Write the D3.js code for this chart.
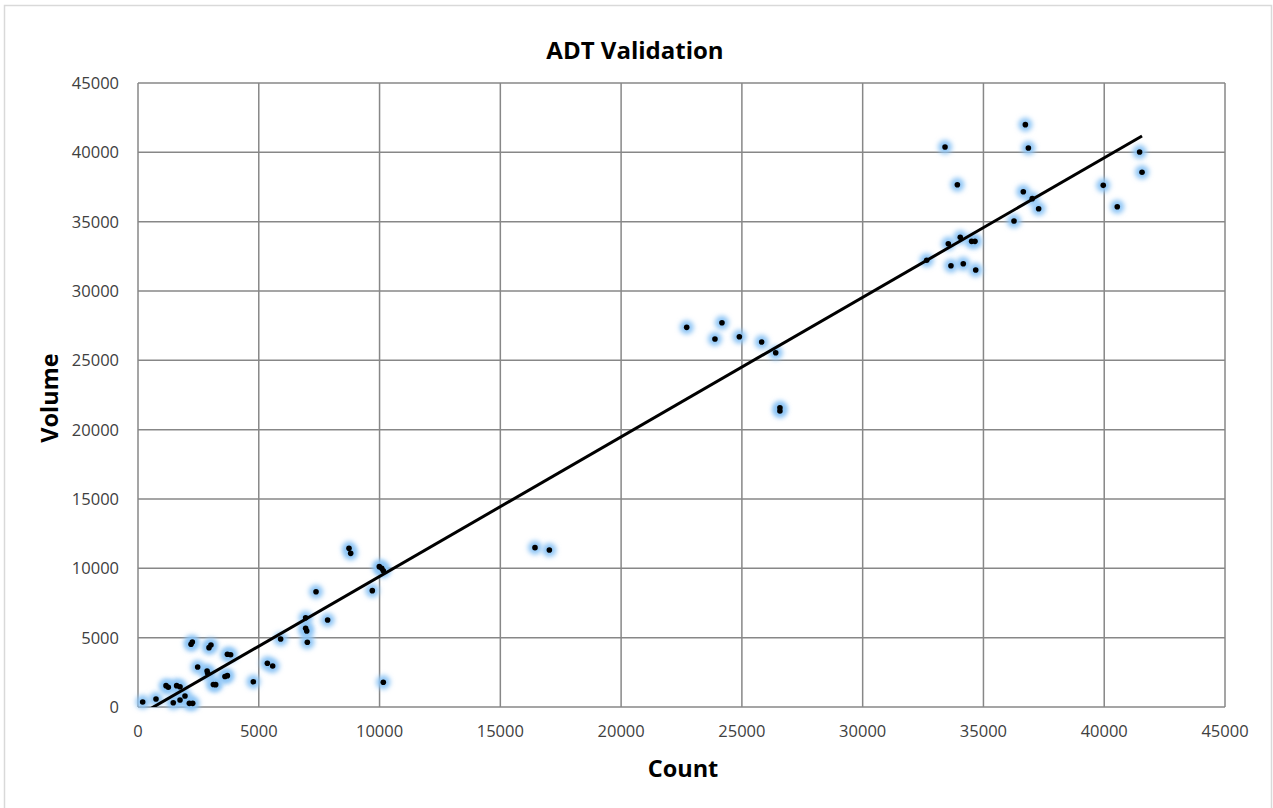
<!DOCTYPE html>
<html lang="en">
	<head>
		<meta charset="utf-8">
		<title>ADT Validation</title>
		<script src="https://cdnjs.cloudflare.com/ajax/libs/d3/7.8.5/d3.min.js"></script>
		<style type="text/css">
			body { margin: 0; background: #fff; }
			text { font-family: "Open Sans", "DejaVu Sans", sans-serif; }
		</style>
	</head>
	<body>
		<script type="text/javascript">

			//Width and height
			var w = 1273;
			var h = 808;

			//Data: count (x) and volume (y)
			var countVals = [194, 745, 1160, 1255, 1600, 1740, 1460, 1740, 1945, 2125, 2265,
				2195, 2250, 2940, 3020, 2470, 2860, 2885, 3700, 3835, 3120, 3215, 3600, 3700,
				4775, 5355, 5575, 5905, 6940, 6940, 6985, 7010, 7370, 7850, 8735, 8805, 9700,
				9990, 10090, 10155, 10155, 16435, 17030,
				22715, 23885, 24175, 24895, 25820, 26400, 26575, 26575,
				32650, 33410, 33545, 33655, 33920, 34040, 34165, 34510, 34650, 34680,
				36265, 36650, 36735, 36860, 37020, 37285, 39960, 40540, 41465, 41565];
			var volumeVals = [360, 577, 1540, 1420, 1540, 1465, 310, 505, 795, 265, 265,
				4520, 4690, 4280, 4470, 2885, 2600, 2430, 3800, 3770, 1620, 1610, 2200, 2260,
				1825, 3150, 2955, 4900, 6440, 5675, 5480, 4665, 8315, 6275, 11440, 11080, 8390,
				10120, 10000, 9830, 1780, 11490, 11320,
				27380, 26540, 27710, 26705, 26320, 25550, 21585, 21345,
				32215, 40380, 33410, 31825, 37665, 33870, 31965, 33580, 33580, 31515,
				35045, 37160, 41995, 40310, 36660, 35935, 37620, 36080, 40020, 38560];
			var tickVals = [0, 5000, 10000, 15000, 20000, 25000, 30000, 35000, 40000, 45000];

			var points = countVals.map(function(c, i) { return { x: c, y: volumeVals[i] }; });

			//Plot area
			var plotL = 138, plotR = 1225, plotT = 83, plotB = 707;

			var xScale = d3.scaleLinear().domain([0, 45000]).range([plotL, plotR]);
			var yScale = d3.scaleLinear().domain([0, 45000]).range([plotB, plotT]);

			var svg = d3.select("body")
				.append("svg")
				.attr("width", w)
				.attr("height", h);

			//Glow around the markers
			var defs = svg.append("defs");
			var glow = defs.append("filter")
				.attr("id", "glow")
				.attr("x", "-100%").attr("y", "-100%")
				.attr("width", "300%").attr("height", "300%");
			glow.append("feGaussianBlur").attr("stdDeviation", 2.4);

			defs.append("clipPath").attr("id", "plotclip")
				.append("rect")
				.attr("x", plotL).attr("y", plotT)
				.attr("width", plotR - plotL).attr("height", plotB - plotT);

			//Outer frame
			svg.append("rect")
				.attr("x", 4.5).attr("y", 5.5)
				.attr("width", 1267).attr("height", 820)
				.attr("fill", "#fff")
				.attr("stroke", "#d9d9d9")
				.attr("stroke-width", 1.5);

			//Grid lines
			svg.append("g").selectAll("line")
				.data(tickVals)
				.enter().append("line")
				.attr("x1", function(d) { return xScale(d); })
				.attr("x2", function(d) { return xScale(d); })
				.attr("y1", plotT).attr("y2", plotB)
				.attr("stroke", "#878787").attr("stroke-width", 1.5);

			svg.append("g").selectAll("line")
				.data(tickVals)
				.enter().append("line")
				.attr("x1", plotL).attr("x2", plotR)
				.attr("y1", function(d) { return yScale(d); })
				.attr("y2", function(d) { return yScale(d); })
				.attr("stroke", "#878787").attr("stroke-width", 1.5);

			//Tick labels
			svg.append("g").selectAll("text")
				.data(tickVals)
				.enter().append("text")
				.attr("x", function(d) { return xScale(d); })
				.attr("y", plotB + 30)
				.attr("text-anchor", "middle")
				.style("font-size", "16.5px")
				.attr("fill", "#404040")
				.text(function(d) { return d; });

			svg.append("g").selectAll("text")
				.data(tickVals)
				.enter().append("text")
				.attr("x", plotL - 19)
				.attr("y", function(d) { return yScale(d) + 6; })
				.attr("text-anchor", "end")
				.style("font-size", "16.5px")
				.attr("fill", "#404040")
				.text(function(d) { return d; });

			//Marker glow
			svg.append("g").selectAll("circle")
				.data(points)
				.enter().append("circle")
				.attr("cx", function(d) { return xScale(d.x); })
				.attr("cy", function(d) { return yScale(d.y); })
				.attr("r", 7)
				.attr("fill", "#8cc4f5")
				.attr("filter", "url(#glow)");

			//Linear trendline (least squares over the points)
			var mx = d3.mean(points, function(d) { return d.x; });
			var my = d3.mean(points, function(d) { return d.y; });
			var sxy = d3.sum(points, function(d) { return (d.x - mx) * (d.y - my); });
			var sxx = d3.sum(points, function(d) { return (d.x - mx) * (d.x - mx); });
			var slope = sxy / sxx;
			var intercept = my - slope * mx;
			var xExtent = d3.extent(points, function(d) { return d.x; });

			svg.append("line")
				.attr("clip-path", "url(#plotclip)")
				.attr("x1", xScale(xExtent[0]))
				.attr("y1", yScale(slope * xExtent[0] + intercept))
				.attr("x2", xScale(xExtent[1]))
				.attr("y2", yScale(slope * xExtent[1] + intercept))
				.attr("stroke", "#000")
				.attr("stroke-width", 3);

			//Marker dots
			svg.append("g").selectAll("circle")
				.data(points)
				.enter().append("circle")
				.attr("cx", function(d) { return xScale(d.x); })
				.attr("cy", function(d) { return yScale(d.y); })
				.attr("r", 2.8)
				.attr("fill", "#000");

			//Title and axis titles
			svg.append("text")
				.attr("x", 635).attr("y", 59)
				.attr("text-anchor", "middle")
				.style("font-size", "24px").style("font-weight", "bold")
				.attr("fill", "#000")
				.text("ADT Validation");

			svg.append("text")
				.attr("x", 683).attr("y", 777)
				.attr("text-anchor", "middle")
				.style("font-size", "23.5px").style("font-weight", "bold")
				.attr("fill", "#000")
				.text("Count");

			svg.append("text")
				.attr("transform", "translate(58,398) rotate(-90)")
				.attr("text-anchor", "middle")
				.style("font-size", "23.5px").style("font-weight", "bold")
				.attr("fill", "#000")
				.text("Volume");

		</script>
	</body>
</html>
